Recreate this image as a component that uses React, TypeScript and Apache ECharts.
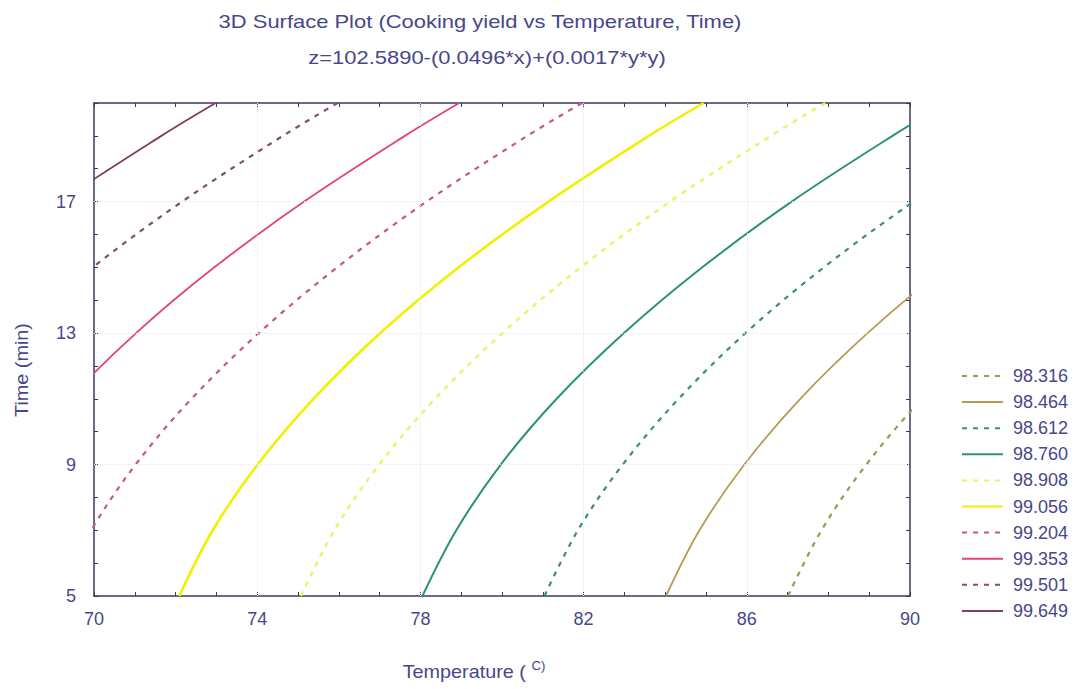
import React, { useEffect, useRef } from "react";
import * as echarts from "echarts";

// Tick labels
const temperatureTicks = [70, 74, 78, 82, 86, 90];
const timeTicks = [5, 9, 13, 17];

// Time values (y) at which each contour's temperature (x) was read
const timePoints = [5, 7, 9, 11, 13, 15, 17, 19, 20];

// Contour levels (legend order, top to bottom)
const levels = ["98.316", "98.464", "98.612", "98.760", "98.908", "99.056", "99.204", "99.353", "99.501", "99.649"];

// Temperature of each contour at the timePoints
const c98316 = [87.01, 87.83, 88.93, 90.3, 91.94, 93.86, 96.05, 98.52, 99.86];
const c98464 = [84.02, 84.84, 85.94, 87.31, 88.96, 90.88, 93.07, 95.54, 96.88];
const c98612 = [81.04, 81.86, 82.96, 84.33, 85.97, 87.89, 90.09, 92.55, 93.89];
const c98760 = [78.05, 78.88, 79.97, 81.34, 82.99, 84.91, 87.1, 89.57, 90.91];
const c98908 = [75.07, 75.89, 76.99, 78.36, 80.01, 81.93, 84.12, 86.59, 87.92];
const c99056 = [72.09, 72.91, 74.01, 75.38, 77.02, 78.94, 81.14, 83.6, 84.94];
const c99204 = [69.1, 69.93, 71.02, 72.39, 74.04, 75.96, 78.15, 80.62, 81.96];
const c99353 = [66.1, 66.92, 68.02, 69.39, 71.03, 72.95, 75.15, 77.62, 78.95];
const c99501 = [63.12, 63.94, 65.03, 66.41, 68.05, 69.97, 72.16, 74.63, 75.97];
const c99649 = [60.13, 60.95, 62.05, 63.42, 65.07, 66.99, 69.18, 71.65, 72.98];

const contourX = [c98316, c98464, c98612, c98760, c98908, c99056, c99204, c99353, c99501, c99649];
const colors = ["#9a9a4e", "#b89a52", "#3e8c7a", "#2a9470", "#eef066", "#f2f000", "#c85a78", "#e04672", "#7e5262", "#80405a"];
const dashed = [true, false, true, false, true, false, true, false, true, false];
const widths = [2.2, 1.8, 2.2, 2, 2.4, 2.6, 2.2, 1.8, 2.2, 1.8];

const textColor = "#47478a";
const font = "'Liberation Sans', Arial, sans-serif";

export default function App() {
  const ref = useRef<HTMLDivElement>(null);
  useEffect(() => {
    if (!ref.current) return;
    const chart = echarts.init(ref.current, null, { renderer: "svg" });
    const axisCommon = {
      type: "value" as const,
      interval: 1,
      axisLine: { show: true, onZero: false, lineStyle: { color: "#3a3a58", width: 1.5 } },
      axisTick: { show: true, inside: true, length: 4, lineStyle: { color: "#3a3a58", width: 1 } },
      splitLine: { show: false },
      minorTick: { show: false },
    };
    const series: any[] = levels.map((lv, i) => ({
      name: lv,
      type: "line",
      xAxisIndex: 0,
      yAxisIndex: 0,
      symbol: "none",
      showSymbol: false,
      smooth: 0.35,
      clip: true,
      data: timePoints.map((t, j) => [contourX[i][j], t]),
      lineStyle: { color: colors[i], width: widths[i], type: dashed[i] ? [5, 6] : "solid" },
      itemStyle: { color: colors[i] },
      z: 3,
    }));
    series.push({
      type: "line",
      xAxisIndex: 0,
      yAxisIndex: 0,
      data: [],
      silent: true,
      markLine: {
        silent: true,
        symbol: "none",
        label: { show: false },
        lineStyle: { color: "#e8e8ee", type: "dotted", width: 1 },
        data: [
          ...temperatureTicks.slice(1, -1).map((v) => ({ xAxis: v })),
          ...timeTicks.slice(1).map((v) => ({ yAxis: v })),
        ],
      },
      z: 1,
    });
    chart.setOption({
      animation: false,
      backgroundColor: "#ffffff",
      grid: { left: 94, right: 172, top: 103, bottom: 93, containLabel: false },
      legend: {
        orient: "vertical",
        left: 956,
        top: 362,
        itemWidth: 41,
        itemHeight: 12,
        itemGap: 8.1,
        data: levels,
        itemStyle: { opacity: 0 },
        textStyle: { color: textColor, fontSize: 18, fontFamily: font, padding: [0, 0, 0, 5] },
      },
      xAxis: [
        {
          ...axisCommon,
          min: 70,
          max: 90,
          position: "bottom",
          axisLabel: {
            color: textColor,
            fontSize: 18,
            fontFamily: font,
            margin: 14,
            formatter: (v: number) => (temperatureTicks.includes(v) ? String(v) : ""),
          },
        },
        { ...axisCommon, min: 70, max: 90, position: "top", axisLabel: { show: false } },
      ],
      yAxis: [
        {
          ...axisCommon,
          min: 5,
          max: 20,
          position: "left",
          axisLabel: {
            color: textColor,
            fontSize: 18,
            fontFamily: font,
            margin: 18,
            formatter: (v: number) => (timeTicks.includes(v) ? String(v) : ""),
          },
        },
        { ...axisCommon, min: 5, max: 20, position: "right", axisLabel: { show: false } },
      ],
      graphic: [
        {
          type: "text",
          x: 480,
          y: 22,
          scaleX: 1.22,
          style: { text: "3D Surface Plot (Cooking yield vs Temperature, Time)", fill: textColor, font: `18px ${font}`, textAlign: "center", textVerticalAlign: "middle" },
        },
        {
          type: "text",
          x: 487,
          y: 58,
          scaleX: 1.22,
          style: { text: "z=102.5890-(0.0496*x)+(0.0017*y*y)", fill: textColor, font: `18px ${font}`, textAlign: "center", textVerticalAlign: "middle" },
        },
        {
          type: "text",
          x: 22,
          y: 370,
          rotation: Math.PI / 2,
          scaleX: 1.1,
          style: { text: "Time (min)", fill: textColor, font: `18px ${font}`, textAlign: "center", textVerticalAlign: "middle" },
        },
        {
          type: "text",
          x: 474,
          y: 672,
          scaleX: 1.1,
          style: {
            text: "Temperature ( {sup|C)}",
            fill: textColor,
            font: `18px ${font}`,
            textAlign: "center",
            textVerticalAlign: "middle",
            rich: { sup: { fontSize: 12, fontFamily: font, fill: textColor, color: textColor, padding: [0, 0, 12, 0] } },
          },
        },
      ],
      series,
    });
    return () => chart.dispose();
  }, []);
  return <div ref={ref} style={{ position: "fixed", left: 0, top: 0, width: 1082, height: 689 }} />;
}
